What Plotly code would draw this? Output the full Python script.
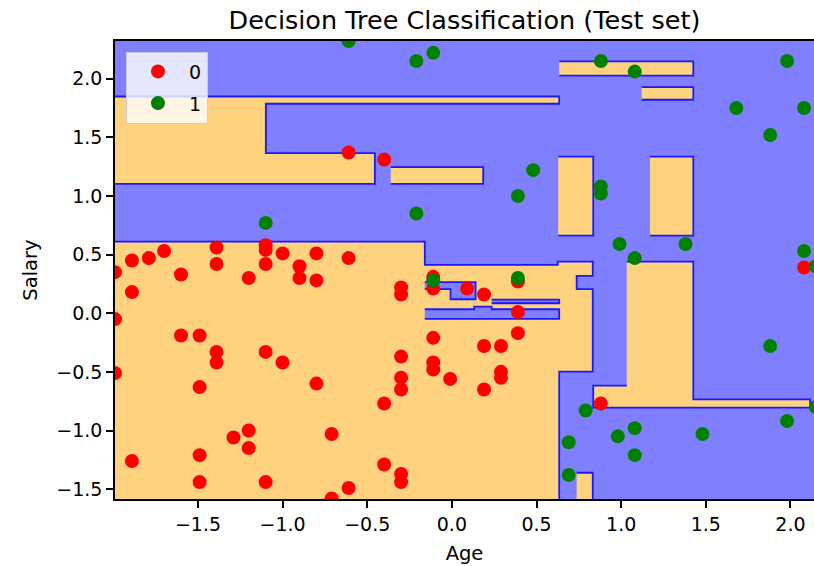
import plotly.graph_objects as go

# ---------------- data ----------------
# class 0 (red) test points: Age, Salary (standardised)
age_0 = [-0.61, -0.40, -1.70, -1.39, -1.10, -1.10, -1.10, -1.00, -0.80, -0.61,
         -1.89, -1.79, -1.39, -0.90, -0.90, -0.80, -1.99, -1.60, -1.20, -1.89,
         -0.30, -0.30, -0.11, -0.11, 0.09, 0.19, 0.39, 0.39, 0.39, -1.99,
         -1.60, -1.49, -1.39, -1.39, -1.10, -1.00, -1.99, -1.49, -0.80, -0.30,
         -0.30, -0.30, -0.40, -0.11, -0.11, -0.11, -0.01, 0.19, 0.29, 0.29,
         0.29, 0.19, -1.20, -1.29, -1.20, -0.71, -1.89, -1.49, -0.40, -0.30,
         -0.30, -1.49, -1.10, -0.61, -0.71, 0.88, 2.08]
sal_0 = [1.37, 1.31, 0.53, 0.56, 0.58, 0.54, 0.42, 0.51, 0.51, 0.47,
         0.45, 0.47, 0.42, 0.40, 0.30, 0.28, 0.35, 0.33, 0.30, 0.18,
         0.22, 0.16, 0.31, 0.21, 0.21, 0.16, 0.27, 0.01, -0.17, -0.05,
         -0.19, -0.19, -0.33, -0.42, -0.33, -0.42, -0.51, -0.63, -0.60, -0.37,
         -0.55, -0.65, -0.77, -0.21, -0.42, -0.48, -0.56, -0.28, -0.28, -0.50,
         -0.55, -0.65, -1.00, -1.06, -1.15, -1.03, -1.26, -1.21, -1.29, -1.37,
         -1.44, -1.44, -1.44, -1.49, -1.58, -0.77, 0.39]

# class 1 (green) test points
age_1 = [-0.61, -0.21, -0.11, -1.10, -0.21, 0.88, 1.08, 1.98, 1.68, 2.08,
         1.88, 0.48, 0.39, 0.88, 0.88, 0.99, 1.38, 1.08, 0.39, 2.08,
         2.15, -0.11, 0.79, 1.88, 1.98, 0.69, 0.98, 1.08, 1.48, 1.08,
         0.69, 2.15]
sal_1 = [2.32, 2.15, 2.22, 0.77, 0.85, 2.15, 2.06, 2.15, 1.75, 1.75,
         1.52, 1.22, 1.00, 1.08, 1.02, 0.59, 0.59, 0.47, 0.30, 0.53,
         0.40, 0.28, -0.83, -0.28, -0.92, -1.10, -1.05, -0.98, -1.03, -1.21,
         -1.38, -0.80]

# decision regions predicted as class 0 (orange) — polygon vertices (Age, Salary)
reg_a_x = [-2.05, 0.634, 0.634, -1.099, -1.099, -0.455, -0.455, -2.05]
reg_a_y = [1.848, 1.848, 1.786, 1.786, 1.365, 1.365, 1.103, 1.103]
reg_b_x = [-0.361, 0.185, 0.185, -0.361]
reg_b_y = [1.103, 1.103, 1.246, 1.246]
reg_c_x = [0.634, 1.426, 1.426, 0.634]
reg_c_y = [2.025, 2.025, 2.147, 2.147]
reg_d_x = [1.121, 1.426, 1.426, 1.121]
reg_d_y = [1.820, 1.820, 1.928, 1.928]
reg_e_x = [0.628, 0.835, 0.835, 0.628]
reg_e_y = [0.662, 0.662, 1.336, 1.336]
reg_f_x = [1.170, 1.426, 1.426, 1.170]
reg_f_y = [0.662, 0.662, 1.336, 1.336]
reg_l_x = [-2.05, -0.160, -0.160, 0.625, 0.625, 0.832, 0.832, 0.737, 0.737,
           0.832, 0.832, 0.634, 0.634, -2.05]
reg_l_y = [0.611, 0.611, 0.412, 0.412, 0.440, 0.440, 0.318, 0.318, 0.205,
           0.205, -0.498, -0.498, -1.65, -1.65]
reg_g_x = [0.737, 0.832, 0.832, 0.737]
reg_g_y = [-1.65, -1.65, -1.360, -1.360]
reg_h_x = [1.033, 1.426, 1.426, 2.116, 2.116, 0.835, 0.835, 1.033]
reg_h_y = [0.440, 0.440, -0.734, -0.734, -0.805, -0.805, -0.618, -0.618]

# class 1 (blue) pockets inside the orange region
hole_1_x = [-0.160, 0.140, 0.140, -0.008, -0.008, -0.160]
hole_1_y = [0.265, 0.265, 0.119, 0.119, 0.205, 0.205]
hole_2_x = [0.235, 0.634, 0.634, 0.235]
hole_2_y = [0.085, 0.085, 0.116, 0.116]
hole_3_x = [-0.160, 0.132, 0.132, 0.235, 0.235, 0.634, 0.634, -0.160]
hole_3_y = [0.034, 0.034, 0.056, 0.056, 0.034, 0.034, -0.049, -0.049]

tick_vals = [-1.5, -1.0, -0.5, 0.0, 0.5, 1.0, 1.5, 2.0]
tick_text = ["\u22121.5", "\u22121.0", "\u22120.5", "0.0", "0.5", "1.0", "1.5", "2.0"]

x_range = [-1.99, 2.139]
y_range = [-1.584, 2.321]

# ---------------- styling ----------------
ORANGE = "rgb(255,210,128)"
BLUE_BG = "rgb(128,128,255)"
EDGE = "rgb(25,25,255)"
FONT = "DejaVu Sans"

fig = go.Figure()

orange_regions = [(reg_a_x, reg_a_y), (reg_b_x, reg_b_y), (reg_c_x, reg_c_y),
                  (reg_d_x, reg_d_y), (reg_e_x, reg_e_y), (reg_f_x, reg_f_y),
                  (reg_l_x, reg_l_y), (reg_g_x, reg_g_y), (reg_h_x, reg_h_y)]
blue_regions = [(hole_1_x, hole_1_y), (hole_2_x, hole_2_y), (hole_3_x, hole_3_y)]

for rx, ry in orange_regions:
    fig.add_trace(go.Scatter(x=rx, y=ry, mode="lines", fill="toself",
                             fillcolor=ORANGE, line=dict(color=EDGE, width=1.8),
                             showlegend=False, hoverinfo="skip"))
for rx, ry in blue_regions:
    fig.add_trace(go.Scatter(x=rx, y=ry, mode="lines", fill="toself",
                             fillcolor=BLUE_BG, line=dict(color=EDGE, width=1.8),
                             showlegend=False, hoverinfo="skip"))

fig.add_trace(go.Scatter(x=age_0, y=sal_0, mode="markers", name="0",
                         legendgroup="0",
                         marker=dict(color="red", size=14, line=dict(width=0))))
fig.add_trace(go.Scatter(x=age_1, y=sal_1, mode="markers", name="1",
                         legendgroup="1",
                         marker=dict(color="green", size=14, line=dict(width=0))))

fig.update_layout(
    width=814, height=566,
    margin=dict(l=115, r=0, t=41, b=67),
    paper_bgcolor="white", plot_bgcolor=BLUE_BG,
    font=dict(family=FONT, size=19, color="black"),
    title=dict(text="Decision Tree Classification (Test set)",
               x=0.5, xref="paper", y=1 - 20 / 566, yref="container",
               xanchor="center", yanchor="middle",
               font=dict(family=FONT, size=25.5, color="black")),
    legend=dict(x=0.0157, y=0.977, xanchor="left", yanchor="top",
                bgcolor="rgba(255,255,255,0.8)", bordercolor="#cccccc",
                borderwidth=1, font=dict(size=19), itemwidth=52,
                traceorder="grouped", tracegroupgap=4),
    showlegend=True,
)

fig.update_xaxes(range=x_range, showgrid=False, zeroline=False,
                 showline=True, linecolor="black", linewidth=1.6, mirror=True,
                 ticks="outside", ticklen=7, tickwidth=1.6, tickcolor="black",
                 tickvals=tick_vals, ticktext=tick_text,
                 title=dict(text="Age", standoff=13, font=dict(size=19.5)))
fig.update_yaxes(range=y_range, showgrid=False, zeroline=False,
                 showline=True, linecolor="black", linewidth=1.6, mirror=False,
                 ticks="outside", ticklen=7, tickwidth=1.6, tickcolor="black",
                 tickvals=tick_vals, ticktext=tick_text,
                 title=dict(text="Salary", standoff=13, font=dict(size=19.5)))

fig.write_html("out.html")
